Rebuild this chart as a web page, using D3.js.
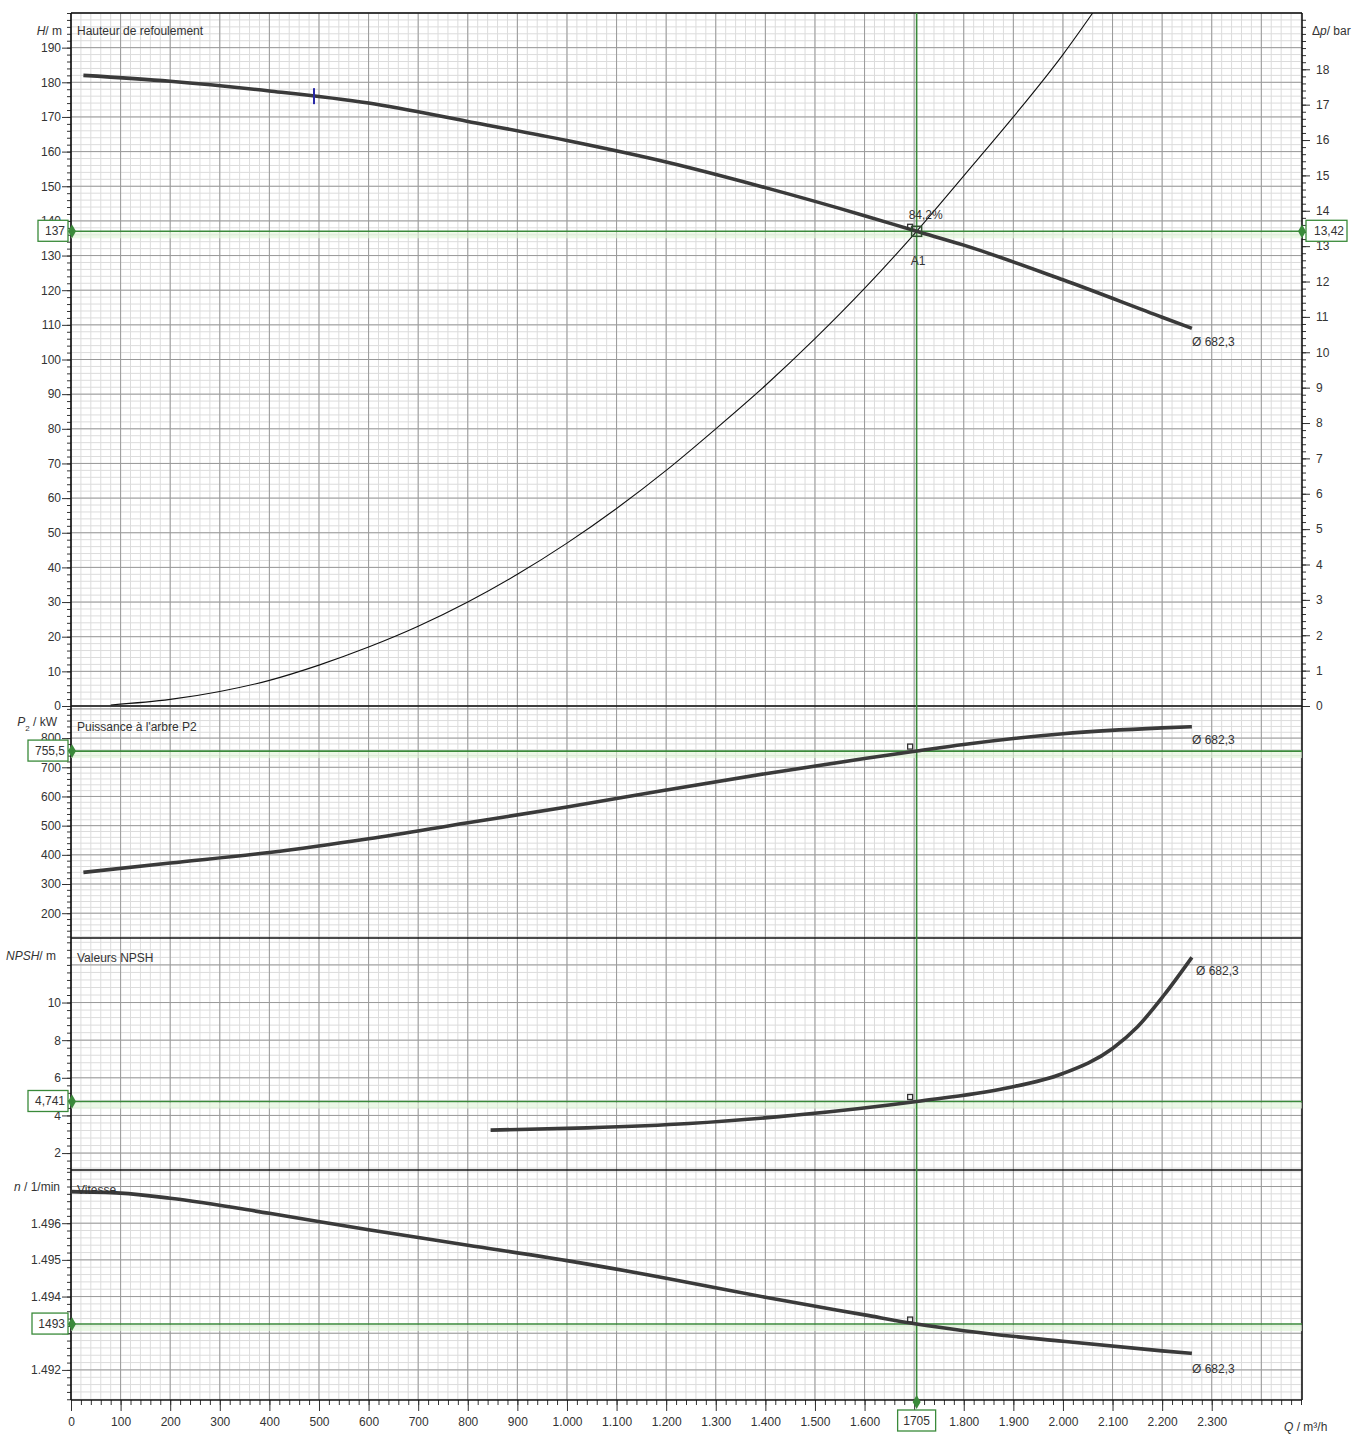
<!DOCTYPE html>
<html>
<head>
<meta charset="utf-8">
<script src="https://cdn.jsdelivr.net/npm/d3@7"></script>
<style>
  body { margin: 0; background: #fff; }
  text { font-family: "Liberation Sans", Arial, sans-serif; font-size: 12px; fill: #333; }
</style>
</head>
<body>
<div id="chart"></div>
<script>
// ---- data ----
const qTicks = [0, 100, 200, 300, 400, 500, 600, 700, 800, 900, 1000, 1100, 1200,
  1300, 1400, 1500, 1600, 1700, 1800, 1900, 2000, 2100, 2200, 2300];
const qDomain = [0, 2482];

// head curve H(Q)
const headQ = [25, 200, 400, 600, 800, 1000, 1200, 1400, 1600, 1705, 1800, 2000, 2200, 2260];
const headH = [182, 180.3, 177.5, 174, 168.7, 163.2, 157, 149.6, 141.5, 137, 133, 123, 112.2, 109];

// system curve
const systemQ = [80, 200, 300, 400, 500, 600, 700, 800, 900, 1000, 1100, 1200, 1300,
  1400, 1500, 1600, 1705, 1800, 1900, 2000, 2060];
const systemH = [0.3, 1.9, 4.2, 7.4, 11.8, 17, 23, 30, 38, 47, 57, 68, 80,
  92.5, 106, 120.5, 137, 153, 170, 188, 200];

// shaft power P2(Q)
const powerQ = [25, 200, 400, 600, 800, 1000, 1200, 1400, 1600, 1705, 1800, 2000, 2200, 2260];
const powerP = [340, 372, 408, 455, 510, 564, 622, 678, 730, 755.5, 778, 815, 835, 839];

// NPSH(Q)
const npshQ = [846, 1040, 1246, 1463, 1705, 1884, 2000, 2100, 2150, 2204, 2260];
const npshV = [3.22, 3.34, 3.57, 4.02, 4.741, 5.44, 6.23, 7.56, 8.7, 10.4, 12.4];

// speed n(Q)
const speedQ = [0, 100, 200, 400, 600, 800, 1000, 1200, 1400, 1600, 1705, 1800, 2000, 2200, 2260];
const speedN = [1496.86, 1496.82, 1496.68, 1496.27, 1495.82, 1495.4, 1494.98, 1494.5,
  1493.98, 1493.5, 1493.25, 1493.07, 1492.78, 1492.52, 1492.45];

// tick values (labels hidden by the value boxes are left out)
const headTicks = [0, 10, 20, 30, 40, 50, 60, 70, 80, 90, 100, 110, 120, 130, 140, 150, 160, 170, 180, 190];
const pressureTicks = [0, 1, 2, 3, 4, 5, 6, 7, 8, 9, 10, 11, 12, 13, 14, 15, 16, 17, 18];
const powerTicks = [200, 300, 400, 500, 600, 700, 800];
const npshTicks = [2, 4, 6, 8, 10];
const speedTicks = [1492, 1493, 1494, 1495, 1496];
const hiddenQLabels = [1700];
const hiddenSpeedLabels = [1493];

// operating point A1
const opQ = 1705, opHead = 137, opPressure = 13.42, opPower = 755.5, opNpsh = 4.741, opSpeed = 1493.25;
const opLabels = { q: "1705", head: "137", pressure: "13,42", power: "755,5", npsh: "4,741", speed: "1493" };
const opEfficiency = "84,2%";
const bestQ = 490, bestH = 176; // blue mark on head curve
const impeller = "Ø 682,3";

// ---- layout ----
const W = 1355, H = 1436;
const X0 = 71, X1 = 1302;
const green = "#3a8a3a";

const svg = d3.select("#chart").append("svg").attr("width", W).attr("height", H);

const fr = d3.formatLocale({ decimal: ",", thousands: ".", grouping: [3], currency: ["", ""] });
const fmtInt = fr.format(",d");

const x = d3.scaleLinear().domain(qDomain).range([X0, X1]);

const panels = [
  { key: "head", top: 13, bottom: 706, y: d3.scaleLinear([0, 200], [706, 13]), ticks: headTicks, major: 10, minor: 2 },
  { key: "power", top: 706, bottom: 938, y: d3.scaleLinear([115, 910], [938, 706]), ticks: powerTicks, major: 100, minor: 20 },
  { key: "npsh", top: 938, bottom: 1170, y: d3.scaleLinear([1.1, 13.43], [1170, 938]), ticks: npshTicks, major: 2, minor: 0.4 },
  { key: "speed", top: 1170, bottom: 1400, y: d3.scaleLinear([1491.18, 1497.45], [1400, 1170]), ticks: speedTicks, major: 1, minor: 0.2 }
];
const yDp = d3.scaleLinear([0, opPressure * 200 / opHead], [706, 13]);

function steps(lo, hi, step) {
  const out = [];
  for (let i = Math.ceil(lo / step - 1e-9); i * step <= hi + 1e-9; i++) out.push(+(i * step).toFixed(4));
  return out;
}

const gridG = svg.append("g");
const qMinor = steps(qDomain[0], qDomain[1], 20);
const qMajor = steps(qDomain[0], qDomain[1], 100);

// grid for every panel
panels.forEach((p) => {
  const [lo, hi] = p.y.domain();
  const g = gridG.append("g");
  g.selectAll(".vmin").data(qMinor).enter().append("line")
    .attr("x1", (d) => x(d)).attr("x2", (d) => x(d))
    .attr("y1", p.top).attr("y2", p.bottom)
    .attr("stroke", "#dcdcdc").attr("stroke-width", 1);
  g.selectAll(".hmin").data(steps(lo, hi, p.minor)).enter().append("line")
    .attr("x1", X0).attr("x2", X1)
    .attr("y1", (d) => p.y(d)).attr("y2", (d) => p.y(d))
    .attr("stroke", "#dcdcdc").attr("stroke-width", 1);
  g.selectAll(".vmaj").data(qMajor).enter().append("line")
    .attr("x1", (d) => x(d)).attr("x2", (d) => x(d))
    .attr("y1", p.top).attr("y2", p.bottom)
    .attr("stroke", "#9a9a9a").attr("stroke-width", 1);
  g.selectAll(".hmaj").data(steps(lo, hi, p.major)).enter().append("line")
    .attr("x1", X0).attr("x2", X1)
    .attr("y1", (d) => p.y(d)).attr("y2", (d) => p.y(d))
    .attr("stroke", "#9a9a9a").attr("stroke-width", 1);
});

// left axes with minor ticks
panels.forEach((p) => {
  const [lo, hi] = p.y.domain();
  const minorAx = svg.append("g").attr("transform", `translate(${X0},0)`)
    .call(d3.axisLeft(p.y).tickValues(steps(lo, hi, p.minor)).tickSize(4).tickFormat(""));
  const majorAx = svg.append("g").attr("transform", `translate(${X0},0)`)
    .call(d3.axisLeft(p.y).tickValues(p.ticks).tickSize(9).tickPadding(1)
      .tickFormat((d) => {
        if (p.key === "speed" && hiddenSpeedLabels.includes(d)) return "";
        return p.key === "npsh" ? d : fmtInt(d);
      }));
  [minorAx, majorAx].forEach((a) => {
    a.select(".domain").remove();
    a.selectAll("line").attr("stroke", "#333");
    a.selectAll("text").style("font-size", "12px").attr("fill", "#333");
  });
});

// right axis (pressure) on top panel
const rMinor = svg.append("g").attr("transform", `translate(${X1},0)`)
  .call(d3.axisRight(yDp).tickValues(steps(0, yDp.domain()[1], 0.2)).tickSize(4).tickFormat(""));
const rMajor = svg.append("g").attr("transform", `translate(${X1},0)`)
  .call(d3.axisRight(yDp).tickValues(pressureTicks).tickSize(8).tickPadding(6));
[rMinor, rMajor].forEach((a) => {
  a.select(".domain").remove();
  a.selectAll("line").attr("stroke", "#333");
  a.selectAll("text").style("font-size", "12px").attr("fill", "#333");
});

// bottom flow axis
const bMinor = svg.append("g").attr("transform", "translate(0,1400)")
  .call(d3.axisBottom(x).tickValues(qMinor).tickSize(5).tickFormat(""));
const bMajor = svg.append("g").attr("transform", "translate(0,1400)")
  .call(d3.axisBottom(x).tickValues(qTicks).tickSize(11).tickPadding(6)
    .tickFormat((d) => (hiddenQLabels.includes(d) ? "" : fmtInt(d))));
[bMinor, bMajor].forEach((a) => {
  a.select(".domain").remove();
  a.selectAll("line").attr("stroke", "#333");
  a.selectAll("text").style("font-size", "12px").attr("fill", "#333");
});

// frame
const frame = svg.append("g").attr("stroke", "#111").attr("stroke-width", 1.6);
frame.append("line").attr("x1", X0).attr("x2", X0).attr("y1", 13).attr("y2", 1400);
frame.append("line").attr("x1", X1).attr("x2", X1).attr("y1", 13).attr("y2", 1400);
[13, 706, 938, 1170, 1400].forEach((yy) => {
  frame.append("line").attr("x1", X0).attr("x2", X1).attr("y1", yy).attr("y2", yy);
});

// clip paths per panel
const defs = svg.append("defs");
panels.forEach((p) => {
  defs.append("clipPath").attr("id", "clip-" + p.key)
    .append("rect").attr("x", X0).attr("y", p.top).attr("width", X1 - X0).attr("height", p.bottom - p.top);
});
const byKey = {};
panels.forEach((p) => (byKey[p.key] = p));

// green operating point lines (drawn under the curves)
const opValues = { head: opHead, power: opPower, npsh: opNpsh, speed: opSpeed };
const greenG = svg.append("g");
panels.forEach((p) => {
  const yy = p.y(opValues[p.key]);
  greenG.append("rect").attr("x", X0).attr("y", yy + 1).attr("width", X1 - X0).attr("height", 6)
    .attr("fill", "#def3d5").attr("opacity", 0.6);
  greenG.append("line").attr("x1", X0).attr("x2", X1).attr("y1", yy).attr("y2", yy)
    .attr("stroke", green).attr("stroke-width", 1.6);
});
greenG.append("line").attr("x1", x(opQ)).attr("x2", x(opQ)).attr("y1", 13).attr("y2", 1402)
  .attr("stroke", green).attr("stroke-width", 1.6);

// curves
const line = d3.line().curve(d3.curveMonotoneX);
function drawCurve(panelKey, qs, vs, width, color) {
  const p = byKey[panelKey];
  svg.append("path")
    .attr("clip-path", `url(#clip-${panelKey})`)
    .attr("d", line(qs.map((q, i) => [x(q), p.y(vs[i])])))
    .attr("fill", "none").attr("stroke", color).attr("stroke-width", width)
    .attr("stroke-linejoin", "round");
}
drawCurve("head", systemQ, systemH, 1.1, "#111");
drawCurve("head", headQ, headH, 3.6, "#3a3a3a");
drawCurve("power", powerQ, powerP, 3.6, "#3a3a3a");
drawCurve("npsh", npshQ, npshV, 3.6, "#3a3a3a");
drawCurve("speed", speedQ, speedN, 3.6, "#3a3a3a");

// blue mark on head curve
svg.append("line").attr("x1", x(bestQ)).attr("x2", x(bestQ))
  .attr("y1", byKey.head.y(bestH) - 8).attr("y2", byKey.head.y(bestH) + 8)
  .attr("stroke", "#2a2aa8").attr("stroke-width", 2);

// operating point marks
panels.forEach((p) => {
  const yy = p.y(opValues[p.key]);
  svg.append("rect").attr("x", x(opQ) - 9).attr("y", yy - 7).attr("width", 5).attr("height", 5)
    .attr("fill", "none").attr("stroke", "#333").attr("stroke-width", 1.3);
});
const opY = byKey.head.y(opHead);
svg.append("rect").attr("x", x(opQ) - 5).attr("y", opY - 5).attr("width", 10).attr("height", 10)
  .attr("fill", "none").attr("stroke", "#2f4f2f").attr("stroke-width", 1.5);
svg.append("text").attr("x", x(opQ) - 8).attr("y", opY - 12).attr("fill", "#4a6a4a").text(opEfficiency);
svg.append("text").attr("x", x(opQ) - 6).attr("y", opY + 34).attr("fill", "#333").text("A1");

// impeller diameter labels at curve ends
const endLabels = [
  { x: 1192, y: 346 }, { x: 1192, y: 744 }, { x: 1196, y: 975 }, { x: 1192, y: 1373 }
];
endLabels.forEach((d) => {
  svg.append("text").attr("x", d.x).attr("y", d.y).attr("fill", "#555").text(impeller);
});

// diamonds and value boxes
const diamond = d3.symbol().type(d3.symbolDiamond).size(55);
function marker(px, py) {
  svg.append("path").attr("d", diamond).attr("transform", `translate(${px},${py})`).attr("fill", green);
}
function valueBox(px, py, w, label, anchor) {
  const bx = anchor === "right" ? px - w : px;
  svg.append("rect").attr("x", bx).attr("y", py - 11).attr("width", w).attr("height", 21)
    .attr("fill", "#fff").attr("stroke", green).attr("stroke-width", 1.3);
  svg.append("text").attr("x", bx + w - 3).attr("y", py + 4).attr("text-anchor", "end")
    .attr("fill", "#4f7f4f").text(label);
}
valueBox(68, byKey.head.y(opHead), 30, opLabels.head, "right");
valueBox(68, byKey.power.y(opPower), 40, opLabels.power, "right");
valueBox(68, byKey.npsh.y(opNpsh), 40, opLabels.npsh, "right");
valueBox(68, byKey.speed.y(opSpeed), 36, opLabels.speed, "right");
valueBox(1306, yDp(opPressure), 41, opLabels.pressure, "left");
svg.append("rect").attr("x", x(opQ) - 19).attr("y", 1410).attr("width", 38).attr("height", 21)
  .attr("fill", "#fff").attr("stroke", green).attr("stroke-width", 1.3);
svg.append("text").attr("x", x(opQ)).attr("y", 1425).attr("text-anchor", "middle")
  .attr("fill", "#4f7f4f").text(opLabels.q);
panels.forEach((p) => marker(X0 + 1, p.y(opValues[p.key])));
marker(X1, yDp(opPressure));
marker(x(opQ), 1402);

// axis titles
function title(px, py, anchor, parts) {
  const t = svg.append("text").attr("x", px).attr("y", py).attr("text-anchor", anchor).attr("fill", "#333");
  parts.forEach((s) => {
    const ts = t.append("tspan").text(s.t);
    if (s.i) ts.style("font-style", "italic");
    if (s.sub) ts.attr("baseline-shift", "sub").style("font-size", "8px");
  });
}
title(62, 35, "end", [{ t: "H", i: true }, { t: "/ m" }]);
title(1312, 35, "start", [{ t: "Δ" }, { t: "p", i: true }, { t: "/ bar" }]);
title(57, 726, "end", [{ t: "P", i: true }, { t: "2", sub: true }, { t: " / kW" }]);
title(56, 960, "end", [{ t: "NPSH", i: true }, { t: "/ m" }]);
title(60, 1191, "end", [{ t: "n", i: true }, { t: " / 1/min" }]);
title(1284, 1431, "start", [{ t: "Q", i: true }, { t: " / m³/h" }]);

// panel titles
[["Hauteur de refoulement", 35], ["Puissance à l'arbre P2", 731], ["Valeurs NPSH", 962], ["Vitesse", 1194]]
  .forEach((d) => svg.append("text").attr("x", 77).attr("y", d[1]).attr("fill", "#333").text(d[0]));
</script>
</body>
</html>
